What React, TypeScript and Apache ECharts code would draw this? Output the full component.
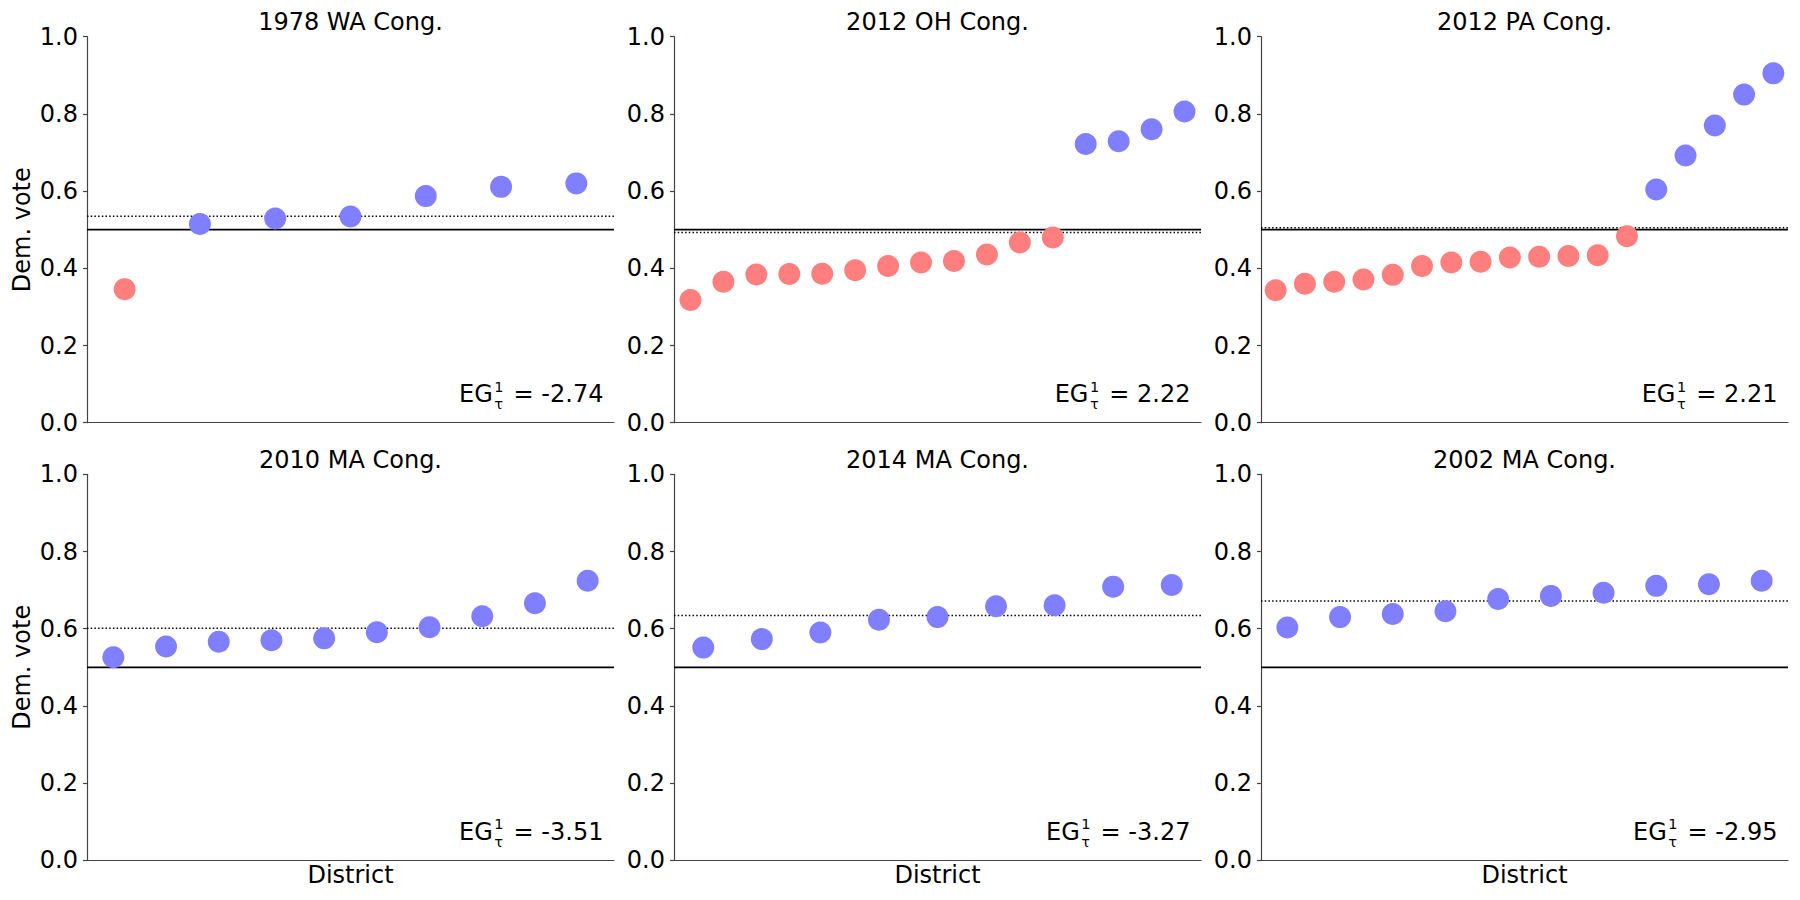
import React, { useEffect, useRef } from 'react';
import * as echarts from 'echarts';

// ---------- data ----------
const titles = [
  '1978 WA Cong.',
  '2012 OH Cong.',
  '2012 PA Cong.',
  '2010 MA Cong.',
  '2014 MA Cong.',
  '2002 MA Cong.',
];
const wa1978 = [0.346, 0.515, 0.529, 0.534, 0.587, 0.611, 0.62];
const oh2012 = [0.318, 0.365, 0.384, 0.385, 0.386, 0.395, 0.406, 0.415, 0.419, 0.436, 0.467, 0.48, 0.722, 0.729, 0.76, 0.806];
const pa2012 = [0.343, 0.36, 0.365, 0.371, 0.383, 0.406, 0.415, 0.417, 0.428, 0.43, 0.432, 0.434, 0.483, 0.604, 0.692, 0.77, 0.85, 0.905];
const ma2010 = [0.526, 0.554, 0.566, 0.57, 0.575, 0.591, 0.604, 0.632, 0.666, 0.724];
const ma2014 = [0.551, 0.573, 0.59, 0.623, 0.63, 0.658, 0.661, 0.709, 0.713];
const ma2002 = [0.603, 0.63, 0.638, 0.645, 0.677, 0.685, 0.693, 0.711, 0.715, 0.724];
const meanLines = [0.535, 0.493, 0.505, 0.601, 0.634, 0.672];
const egValues = ['-2.74', '2.22', '2.21', '-3.51', '-3.27', '-2.95'];
const evenLine = 0.5;
const yMin = 0;
const yMax = 1;
const yStep = 0.2;
const yAxisName = 'Dem. vote';
const xAxisName = 'District';

const panels = [wa1978, oh2012, pa2012, ma2010, ma2014, ma2002];

// ---------- layout / style ----------
const FONT = '"DejaVu Sans", "Liberation Sans", sans-serif';
const W = 527;
const H = 386;
const LEFTS = [87, 674, 1261];
const TOPS = [36.7, 474.3];
const BLUE = '#7f7fff';
const RED = '#ff7f7f';
const SPINE = '#444';
const SCRIPT_SIZE = 14.5;

function measure(text: string, size: number): number {
  const c = document.createElement('canvas');
  const ctx = c.getContext('2d');
  if (!ctx) return text.length * size * 0.6;
  ctx.font = `${size}px "DejaVu Sans"`;
  return ctx.measureText(text).width;
}

export default function App() {
  const ref = useRef<HTMLDivElement>(null);

  useEffect(() => {
    if (!ref.current) return;
    const chart = echarts.init(ref.current, undefined, { renderer: 'svg' });

    const grid: any[] = [];
    const xAxis: any[] = [];
    const yAxis: any[] = [];
    const series: any[] = [];
    const graphic: any[] = [];

    panels.forEach((vals, i) => {
      const col = i % 3;
      const row = Math.floor(i / 3);
      const left = LEFTS[col];
      const top = TOPS[row];
      const n = vals.length;
      grid.push({ left, top, width: W, height: H, containLabel: false });
      xAxis.push({
        type: 'value',
        gridIndex: i,
        min: -0.5,
        max: n - 0.5,
        axisLine: { show: true, onZero: false, lineStyle: { color: SPINE, width: 1.2 } },
        axisTick: { show: false },
        axisLabel: { show: false },
        splitLine: { show: false },
      });
      yAxis.push({
        type: 'value',
        gridIndex: i,
        min: yMin,
        max: yMax,
        interval: yStep,
        axisLine: { show: true, onZero: false, lineStyle: { color: SPINE, width: 1.2 } },
        axisTick: { show: true, length: 4, lineStyle: { color: SPINE, width: 1.2 } },
        axisLabel: {
          fontSize: 24,
          color: '#000',
          fontFamily: FONT,
          margin: 9,
          formatter: (v: number) => v.toFixed(1),
        },
        splitLine: { show: false },
      });
      // 0.5 reference line
      series.push({
        type: 'line',
        xAxisIndex: i,
        yAxisIndex: i,
        data: [[-0.5, evenLine], [n - 0.5, evenLine]],
        symbol: 'none',
        lineStyle: { color: '#000', width: 1.8, type: 'solid' },
        z: 1,
        silent: true,
      });
      // mean line (dotted)
      series.push({
        type: 'line',
        xAxisIndex: i,
        yAxisIndex: i,
        data: [[-0.5, meanLines[i]], [n - 0.5, meanLines[i]]],
        symbol: 'none',
        lineStyle: { color: '#000', width: 1.5, type: [1.5, 2.2] },
        z: 1,
        silent: true,
      });
      series.push({
        type: 'scatter',
        xAxisIndex: i,
        yAxisIndex: i,
        symbol: 'circle',
        symbolSize: 22,
        z: 2,
        data: vals.map((v, j) => ({
          value: [j, v],
          itemStyle: { color: v < evenLine ? RED : BLUE, opacity: 1 },
        })),
      });

      // title
      graphic.push({
        type: 'text',
        x: left + W / 2,
        y: top - 14.7,
        style: {
          text: titles[i],
          font: `24px ${FONT}`,
          fill: '#000',
          textAlign: 'center',
          textVerticalAlign: 'middle',
        },
      });

      // EG annotation: "EG", superscript "1", subscript "τ", " = value"
      const R = left + 0.98 * W;
      const B = top + H - 20.7;
      const rest = ' = ' + egValues[i];
      const wRest = measure(rest, 24);
      const wScript = Math.max(measure('1', SCRIPT_SIZE), measure('τ', SCRIPT_SIZE));
      const sx = R - wRest - wScript - 3;
      graphic.push({
        type: 'text',
        x: R,
        y: B - 8,
        style: { text: rest, font: `24px ${FONT}`, fill: '#000', textAlign: 'right', textVerticalAlign: 'middle' },
      });
      graphic.push({
        type: 'text',
        x: sx - 1,
        y: B - 8,
        style: { text: 'EG', font: `24px ${FONT}`, fill: '#000', textAlign: 'right', textVerticalAlign: 'middle' },
      });
      graphic.push({
        type: 'text',
        x: sx + 0.5,
        y: B - 15.3,
        style: {
          text: '1',
          font: `${SCRIPT_SIZE}px ${FONT}`,
          lineHeight: SCRIPT_SIZE,
          fill: '#000',
          textAlign: 'left',
          textVerticalAlign: 'middle',
        },
      });
      graphic.push({
        type: 'text',
        x: sx + 0.5,
        y: B + 1.9,
        style: {
          text: 'τ',
          font: `${SCRIPT_SIZE}px ${FONT}`,
          lineHeight: SCRIPT_SIZE,
          fill: '#000',
          textAlign: 'left',
          textVerticalAlign: 'middle',
        },
      });

      if (col === 0) {
        graphic.push({
          type: 'text',
          x: 22,
          y: top + H / 2,
          rotation: Math.PI / 2,
          style: { text: yAxisName, font: `24px ${FONT}`, fill: '#000', textAlign: 'center', textVerticalAlign: 'middle' },
        });
      }
      if (row === 1) {
        graphic.push({
          type: 'text',
          x: left + W / 2,
          y: top + H + 14.2,
          style: { text: xAxisName, font: `24px ${FONT}`, fill: '#000', textAlign: 'center', textVerticalAlign: 'middle' },
        });
      }
    });

    chart.setOption({
      animation: false,
      backgroundColor: '#fff',
      textStyle: { fontFamily: FONT },
      grid,
      xAxis,
      yAxis,
      series,
      graphic,
    });

    return () => {
      chart.dispose();
    };
  }, []);

  return (
    <div
      ref={ref}
      style={{ position: 'absolute', left: 0, top: 0, width: 1800, height: 900, background: '#fff' }}
    />
  );
}
